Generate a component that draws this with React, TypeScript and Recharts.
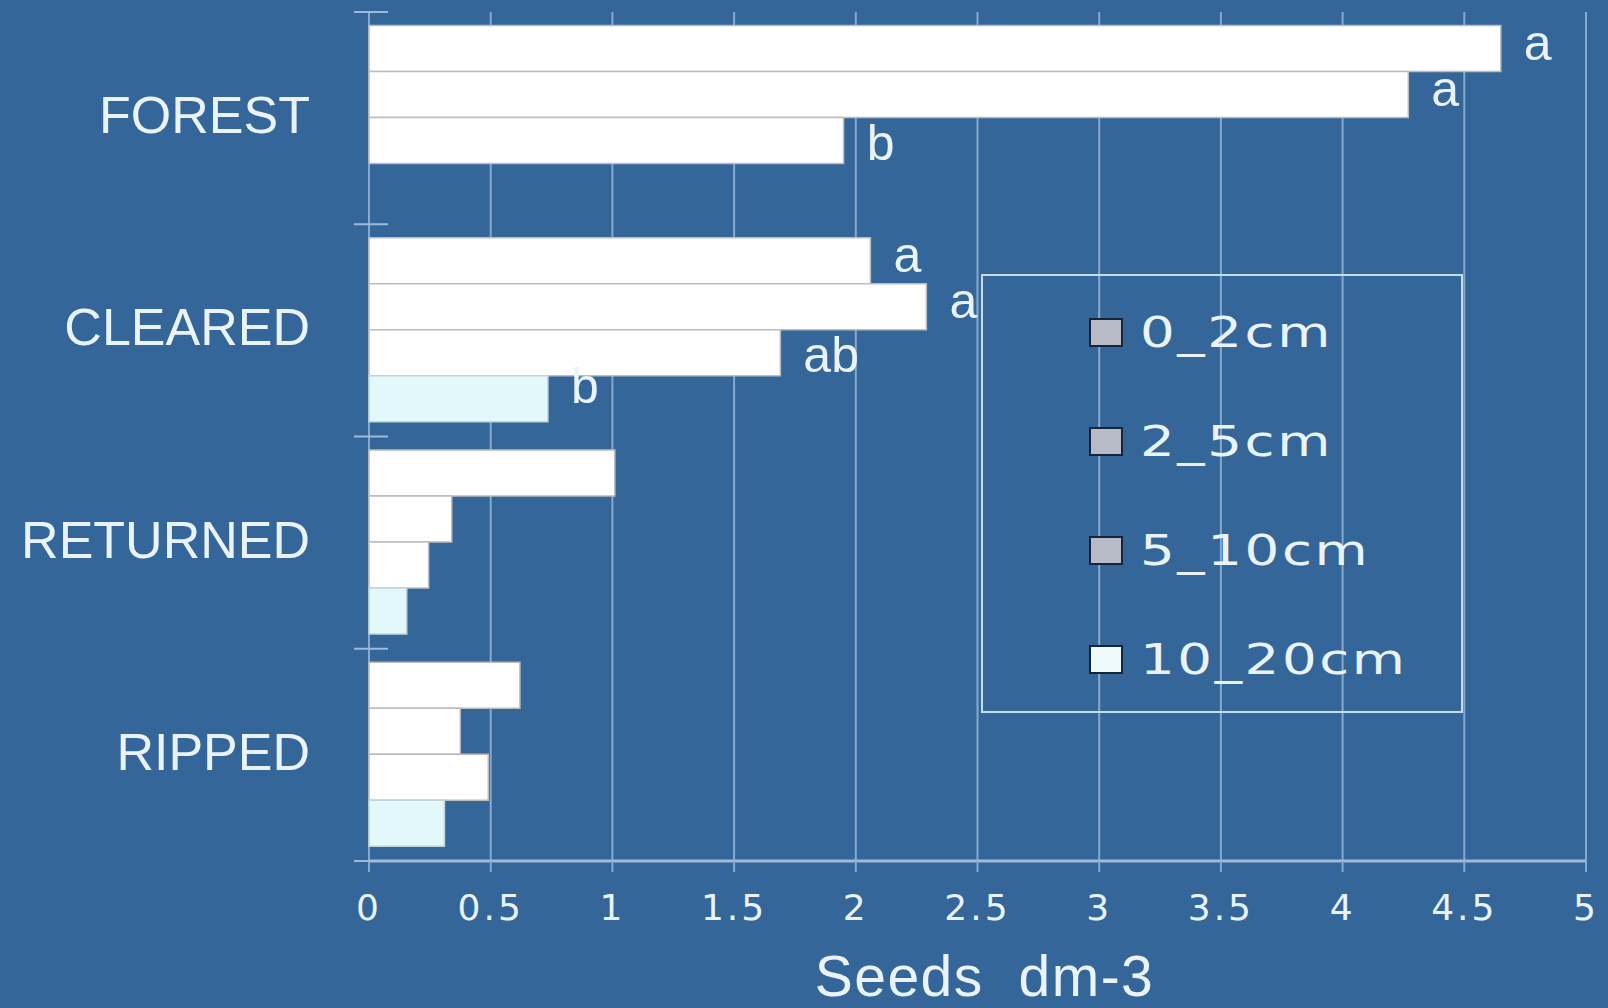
import { Bar, BarChart, CartesianGrid, LabelList, Legend, XAxis, YAxis } from "recharts";

const BG = "#34669a";
const TEXT = "#eaf3fa";
const GRID = "#86a9cd";
const AXIS = "#9dbbd9";

const sites = ["FOREST", "CLEARED", "RETURNED", "RIPPED"];
const depth0_2 = [4.65, 2.06, 1.01, 0.62];
const depth2_5 = [4.27, 2.29, 0.34, 0.375];
const depth5_10 = [1.95, 1.69, 0.245, 0.49];
const depth10_20 = [0, 0.735, 0.155, 0.31];
const sig0_2 = ["a", "a", "", ""];
const sig2_5 = ["a", "a", "", ""];
const sig5_10 = ["b", "ab", "", ""];
const sig10_20 = ["", "b", "", ""];
const xTicks = [0, 0.5, 1, 1.5, 2, 2.5, 3, 3.5, 4, 4.5, 5];
const seriesNames = ["0_2cm", "2_5cm", "5_10cm", "10_20cm"];

const SWATCH = ["#b8bcc9", "#b8bcc9", "#b8bcc9", "#eef9fb"];
const TICK_MARGIN = 59;

const data = sites.map((site, i) => ({
  site,
  d0_2: depth0_2[i],
  d2_5: depth2_5[i],
  d5_10: depth5_10[i],
  d10_20: depth10_20[i],
  s0_2: sig0_2[i],
  s2_5: sig2_5[i],
  s5_10: sig5_10[i],
  s10_20: sig10_20[i],
}));

// letters sit to the right of each bar; `drop` moves the baseline below bar centre
const sigLabel = (drop?: number) => (p: any) => {
  const vb = p.viewBox || p;
  if (!p.value) return null;
  const d = drop ?? (String(p.value).includes("b") ? 19 : 11);
  return (
    <text
      x={vb.x + vb.width + 23}
      y={vb.y + vb.height / 2 + d}
      fill={TEXT}
      fontSize={50}
      fontFamily="Liberation Sans, Arial, sans-serif"
    >
      {p.value}
    </text>
  );
};

// category label plus the small tick marks at the band edges
const SiteTick = (p: any) => {
  const half = p.payload?.offset || 106;
  const ax = p.x + TICK_MARGIN;
  const mark = (y: number) => (
    <line x1={ax - 15} x2={ax + 19} y1={y} y2={y} stroke={AXIS} strokeWidth={2} />
  );
  return (
    <g>
      {mark(p.y - half)}
      {p.index === sites.length - 1 && mark(p.y + half)}
      <text
        x={p.x}
        y={p.y}
        dy={15}
        textAnchor="end"
        fill={TEXT}
        fontSize={52}
        fontFamily="Liberation Sans, Arial, sans-serif"
      >
        {p.payload.value}
      </text>
    </g>
  );
};

const renderLegend = () => (
  <div
    style={{
      width: 482,
      height: 439,
      boxSizing: "border-box",
      border: "2px solid #c6dbee",
      paddingTop: 2,
    }}
  >
    {seriesNames.map((name, i) => (
      <div
        key={name}
        style={{ height: 109, display: "flex", alignItems: "center", paddingLeft: 106 }}
      >
        <span
          style={{
            width: 34,
            height: 29,
            boxSizing: "border-box",
            background: SWATCH[i],
            border: "2px solid #14243c",
            flex: "none",
          }}
        />
        <span
          style={{
            marginLeft: 17,
            color: TEXT,
            fontFamily: "DejaVu Sans, sans-serif",
            fontSize: 42,
            letterSpacing: 2,
            transform: "scaleX(1.3)",
            transformOrigin: "left center",
            whiteSpace: "nowrap",
          }}
        >
          {name}
        </span>
      </div>
    ))}
  </div>
);

export default function App() {
  return (
    <div style={{ position: "absolute", left: 0, top: 0, width: 1608, height: 1008, background: BG }}>
      <BarChart
        width={1608}
        height={1008}
        data={data}
        layout="vertical"
        margin={{ top: 12, right: 22, bottom: 0, left: 0 }}
        barCategoryGap="6.4%"
        barGap={0}
      >
        <CartesianGrid horizontal={false} stroke={GRID} strokeWidth={2} />
        <XAxis
          type="number"
          domain={[0, 5]}
          ticks={xTicks}
          interval={0}
          height={147}
          axisLine={{ stroke: AXIS, strokeWidth: 3 }}
          tickLine={{ stroke: GRID, strokeWidth: 2 }}
          tickSize={11}
          tickMargin={22}
          tick={{ fill: TEXT, fontSize: 36, fontFamily: "DejaVu Sans, sans-serif", letterSpacing: 3 }}
          label={{
            content: (p: any) => {
              const vb = p.viewBox;
              return (
                <text
                  x={vb.x + vb.width / 2 + 7}
                  y={vb.y + vb.height - 12}
                  textAnchor="middle"
                  fill={TEXT}
                  fontSize={57}
                  letterSpacing={1.5}
                  fontFamily="Liberation Sans, Arial, sans-serif"
                  style={{ whiteSpace: "pre" }}
                >
                  Seeds  dm-3
                </text>
              );
            },
          }}
        />
        <YAxis
          type="category"
          dataKey="site"
          width={369}
          axisLine={false}
          tickLine={false}
          tickSize={0}
          tickMargin={TICK_MARGIN}
          tick={<SiteTick />}
        />
        <Legend
          layout="vertical"
          align="center"
          verticalAlign="middle"
          wrapperStyle={{ left: 981, top: 274, width: 482, height: 439 }}
          content={renderLegend}
        />
        <Bar dataKey="d0_2" name={seriesNames[0]} fill="#ffffff" stroke="#bcbcbc" strokeWidth={1.5} isAnimationActive={false}>
          <LabelList dataKey="s0_2" content={sigLabel()} />
        </Bar>
        <Bar dataKey="d2_5" name={seriesNames[1]} fill="#ffffff" stroke="#bcbcbc" strokeWidth={1.5} isAnimationActive={false}>
          <LabelList dataKey="s2_5" content={sigLabel()} />
        </Bar>
        <Bar dataKey="d5_10" name={seriesNames[2]} fill="#ffffff" stroke="#bcbcbc" strokeWidth={1.5} isAnimationActive={false}>
          <LabelList dataKey="s5_10" content={sigLabel()} />
        </Bar>
        <Bar dataKey="d10_20" name={seriesNames[3]} fill="#e2f8fb" stroke="#c4d4d6" strokeWidth={1.5} isAnimationActive={false}>
          <LabelList dataKey="s10_20" content={sigLabel(4)} />
        </Bar>
      </BarChart>
    </div>
  );
}
